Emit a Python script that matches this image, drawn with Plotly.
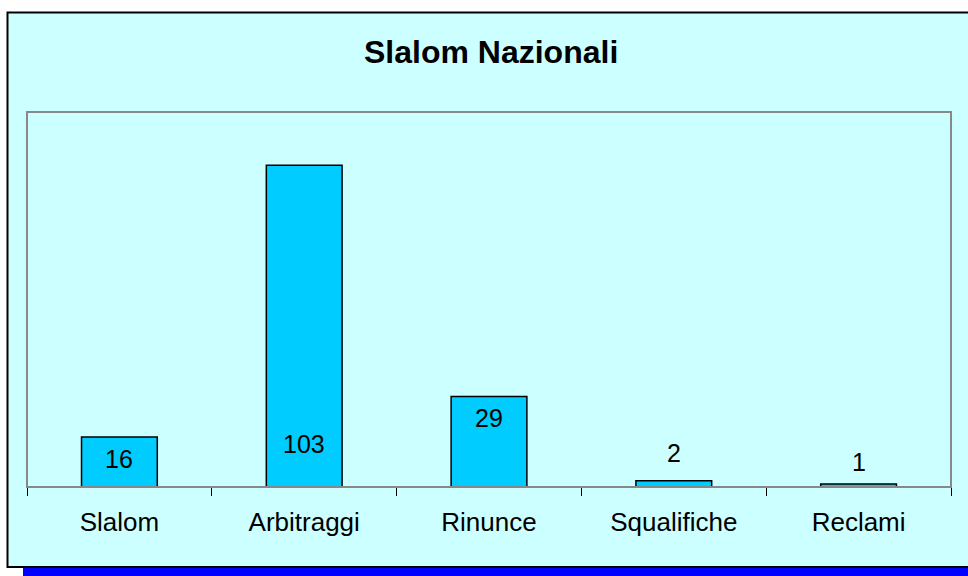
import plotly.graph_objects as go

categories = ["Slalom", "Arbitraggi", "Rinunce", "Squalifiche", "Reclami"]
values = [16, 103, 29, 2, 1]
title_text = "Slalom Nazionali"

# label placement style: pixel shift of label centre relative to bar top
label_shift_px = [-22, -279, -22, 28, 22]

W, H = 968, 576
L, R, T, B = 27, 951, 112, 487  # plot area in pixels

def px_x(x):
    return (x - L) / (R - L)

def px_y(y):
    return (B - y) / (B - T)

FONT = "Arial, Liberation Sans, sans-serif"

fig = go.Figure()
fig.add_trace(go.Bar(
    x=categories, y=values, width=0.41,
    marker=dict(color="#00CCFF", line=dict(color="#000000", width=1.5)),
    hoverinfo="x+y",
))

for c, v, s in zip(categories, values, label_shift_px):
    fig.add_annotation(x=c, y=v, text=str(v), showarrow=False, yshift=s,
                       yanchor="middle", font=dict(family=FONT, size=25, color="#000000"))

shapes = [
    # outer chart area
    dict(type="rect", xref="paper", yref="paper", layer="below",
         x0=px_x(7.5), x1=px_x(975), y0=px_y(567), y1=px_y(12.5),
         fillcolor="#CCFFFF", line=dict(color="#000000", width=2)),
    # blue band at bottom
    dict(type="rect", xref="paper", yref="paper", layer="below",
         x0=px_x(23), x1=px_x(975), y0=px_y(580), y1=px_y(568),
         fillcolor="#0000FF", line=dict(width=0)),
    # plot area border
    dict(type="rect", xref="paper", yref="paper", layer="above",
         x0=0, x1=1, y0=0, y1=1, fillcolor="rgba(0,0,0,0)",
         line=dict(color="#888888", width=2)),
]

fig.add_annotation(xref="paper", yref="paper", x=px_x(491), y=px_y(52),
                   text="<b>" + title_text + "</b>", showarrow=False,
                   yanchor="middle", font=dict(family=FONT, size=32, color="#000000"))

fig.update_layout(
    width=W, height=H,
    margin=dict(l=L, r=W - R, t=T, b=H - B),
    paper_bgcolor="#FFFFFF", plot_bgcolor="#CCFFFF",
    showlegend=False, shapes=shapes,
    bargap=0.59,
)
fig.update_xaxes(showline=True, linecolor="#000000", linewidth=1,
                 ticks="outside", tickson="boundaries", ticklen=8, tickcolor="#000000",
                 tickwidth=1, showgrid=False, zeroline=False, ticklabelstandoff=12,
                 tickfont=dict(family=FONT, size=26, color="#000000"))
fig.update_yaxes(range=[0, 120], showticklabels=False, showgrid=False,
                 zeroline=False, ticks="", showline=False)

fig.write_html("out.html", config={"displayModeBar": False},
               post_script="document.body.style.margin='0';document.body.style.overflow='hidden';")
